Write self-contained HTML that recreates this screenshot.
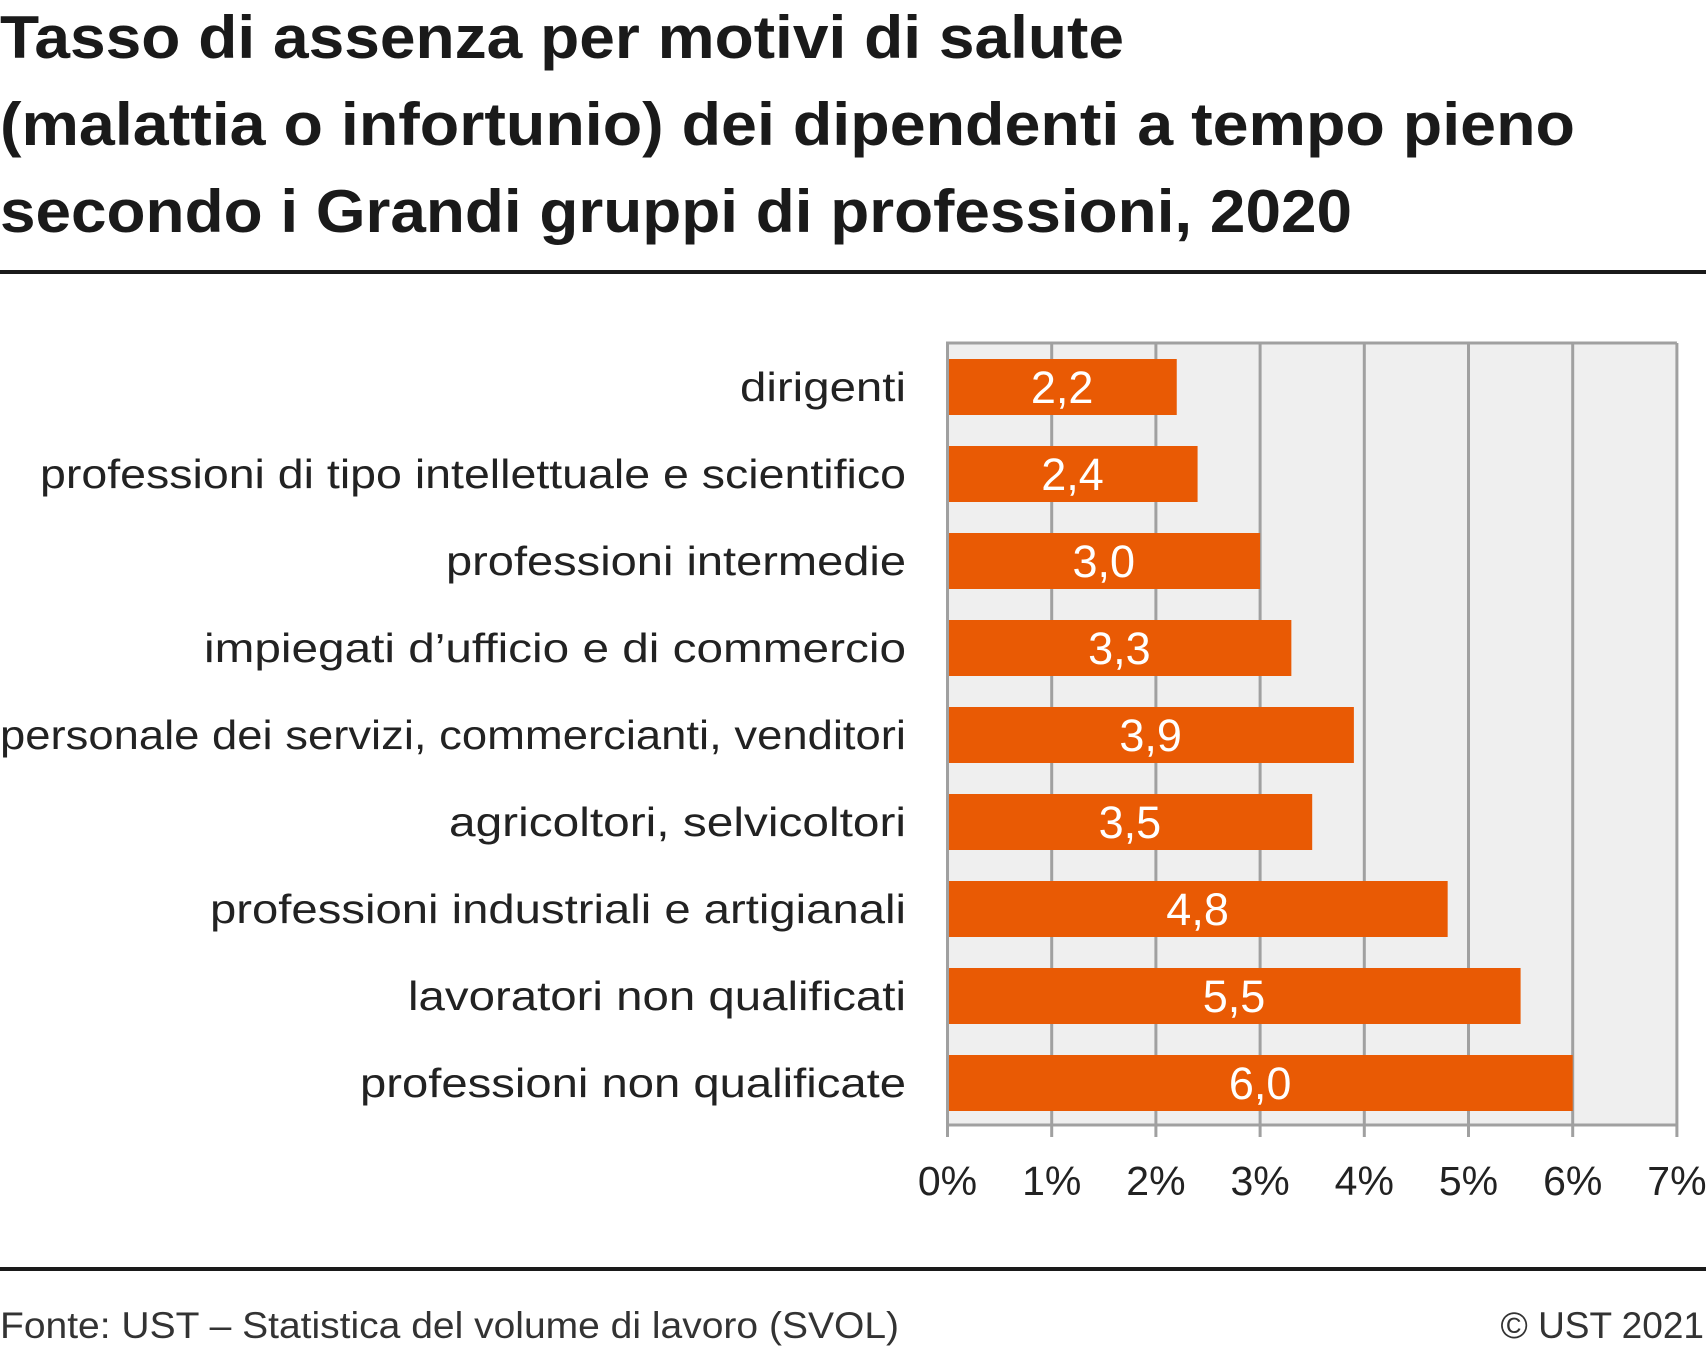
<!DOCTYPE html>
<html><head><meta charset="utf-8"><style>
html,body{margin:0;padding:0;background:#fff;}
svg{display:block;font-family:"Liberation Sans",sans-serif;}
</style></head><body>
<svg id="chart" width="1706" height="1349" viewBox="0 0 1706 1349">
<g font-weight="bold" font-size="60" fill="#1a1a1a">
<text x="0" y="58" textLength="1124" lengthAdjust="spacingAndGlyphs">Tasso di assenza per motivi di salute</text>
<text x="0" y="145" textLength="1575" lengthAdjust="spacingAndGlyphs">(malattia o infortunio) dei dipendenti a tempo pieno</text>
<text x="0" y="232" textLength="1352" lengthAdjust="spacingAndGlyphs">secondo i Grandi gruppi di professioni, 2020</text>
</g>
<rect x="0" y="270" width="1706" height="4" fill="#1a1a1a"/>
<rect x="946" y="343" width="731" height="782" fill="#efefef"/>
<g id="grid"></g>
<g id="bars"></g>
<g id="labels"></g>
<g id="ticks"></g>
<rect x="0" y="1267" width="1706" height="4" fill="#1a1a1a"/>
<text x="0" y="1338" font-size="37" fill="#333" font-weight="300" textLength="899" lengthAdjust="spacingAndGlyphs">Fonte: UST – Statistica del volume di lavoro (SVOL)</text>
<text x="1704" y="1338" font-size="37" fill="#333" text-anchor="end">© UST 2021</text>
</svg>
<script>
const categories = ["dirigenti","professioni di tipo intellettuale e scientifico","professioni intermedie","impiegati d’ufficio e di commercio","personale dei servizi, commercianti, venditori","agricoltori, selvicoltori","professioni industriali e artigianali","lavoratori non qualificati","professioni non qualificate"];
const values = [2.2,2.4,3.0,3.3,3.9,3.5,4.8,5.5,6.0];
const valueLabels = ["2,2","2,4","3,0","3,3","3,9","3,5","4,8","5,5","6,0"];
const tickValues = [0,1,2,3,4,5,6,7];
const tickLabels = ["0%","1%","2%","3%","4%","5%","6%","7%"];
const labelWidths = [166,866,460,702,906,457,696,498,546];

const NS="http://www.w3.org/2000/svg";
const x0=947.5, pxPer=104.2, plotTop=343, plotBottom=1125, firstC=387, step=87, barH=56;
const xs=v=>x0+v*pxPer;
const ys=i=>firstC+i*step;
function mk(t,a,p){const e=document.createElementNS(NS,t);for(const k in a)e.setAttribute(k,a[k]);p.appendChild(e);return e;}
const grid=document.getElementById('grid'),bars=document.getElementById('bars'),labels=document.getElementById('labels'),ticks=document.getElementById('ticks');
tickValues.forEach((v,i)=>{
  const l=mk('line',{x1:xs(v),x2:xs(v),y1:plotTop,y2:plotBottom+12,stroke:'#a0a0a0','stroke-width':3},grid);
  
  
  const t=mk('text',{x:xs(v),y:1195,'font-size':41,fill:'#222','text-anchor':'middle','font-weight':'300'},ticks);
  t.textContent=tickLabels[i];
  
  
});
const tl=mk('line',{x1:x0-1.5,x2:xs(7),y1:plotTop,y2:plotTop,stroke:'#a0a0a0','stroke-width':3},grid);


const bl=mk('line',{x1:x0-1.5,x2:xs(7),y1:plotBottom,y2:plotBottom,stroke:'#a0a0a0','stroke-width':3},grid);


categories.forEach((c,i)=>{
  const r=mk('rect',{x:x0+1.5,y:ys(i)-barH/2,width:xs(values[i])-x0-1.5,height:barH,fill:'#e95a04'},bars);
  
  
  const v=mk('text',{x:(x0+xs(values[i]))/2,y:ys(i)+16,'font-size':45,fill:'#fff','text-anchor':'middle','font-weight':'300'},bars);
  v.textContent=valueLabels[i];
  
  
  const t=mk('text',{x:906,y:ys(i)+14,'font-size':41,fill:'#222','text-anchor':'end','font-weight':'300',textLength:labelWidths[i],lengthAdjust:'spacingAndGlyphs'},labels);
  t.textContent=c;
  
  
});
</script>
</body></html>
